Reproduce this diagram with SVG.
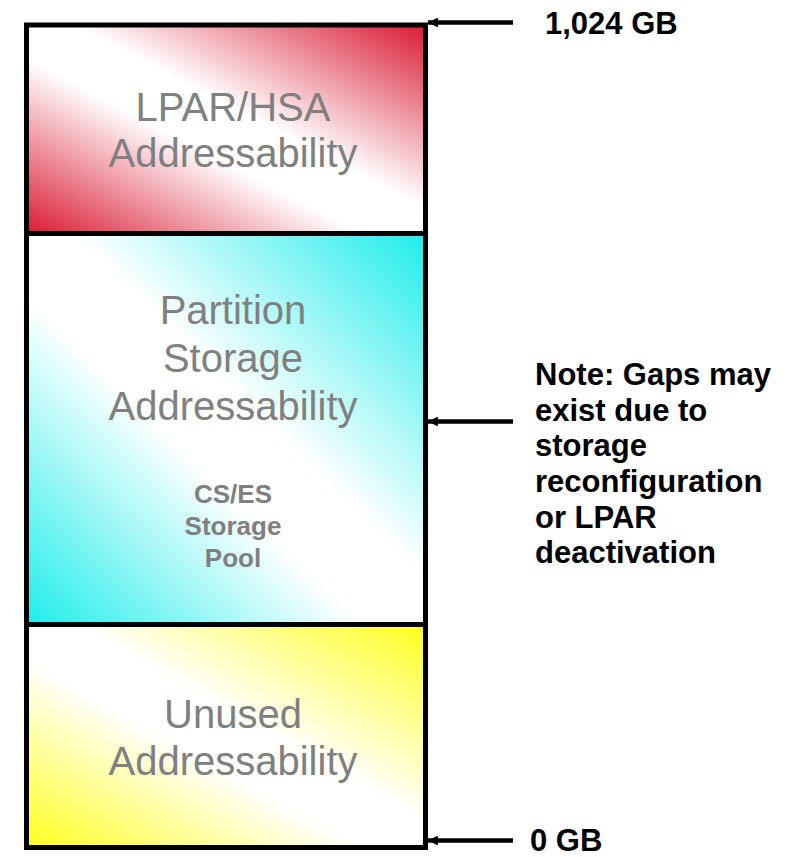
<svg xmlns="http://www.w3.org/2000/svg" width="793" height="857" viewBox="0 0 793 857">
  <style>
    .box { stroke: #000; stroke-width: 5; }
    .big { font-family: "Liberation Sans", Arial, sans-serif; font-size: 40px; fill: #808080; text-anchor: middle; }
    .small { font-family: "Liberation Sans", Arial, sans-serif; font-size: 26px; font-weight: bold; fill: #808080; text-anchor: middle; }
    .lbl { font-family: "Liberation Sans", Arial, sans-serif; font-size: 31px; font-weight: bold; fill: #000; }
    .arrow { stroke: #000; stroke-width: 4.5; fill: none; marker-end: url(#head); }
  </style>
  <defs>
    <linearGradient id="gRed" x1="0" y1="1" x2="1" y2="0">
      <stop offset="0" stop-color="#DA1A33"/>
      <stop offset="0.42" stop-color="#FFFFFF"/>
      <stop offset="0.56" stop-color="#FFFFFF"/>
      <stop offset="1" stop-color="#DA1A33"/>
    </linearGradient>
    <linearGradient id="gCyan" x1="0" y1="1" x2="1" y2="0">
      <stop offset="0" stop-color="#1EEDEB"/>
      <stop offset="0.42" stop-color="#FFFFFF"/>
      <stop offset="0.56" stop-color="#FFFFFF"/>
      <stop offset="1" stop-color="#1EEDEB"/>
    </linearGradient>
    <linearGradient id="gYellow" x1="0" y1="1" x2="1" y2="0">
      <stop offset="0" stop-color="#FFFF1E"/>
      <stop offset="0.42" stop-color="#FFFFFF"/>
      <stop offset="0.56" stop-color="#FFFFFF"/>
      <stop offset="1" stop-color="#FFFF1E"/>
    </linearGradient>
    <marker id="head" viewBox="0 0 10 10" refX="10" refY="5" markerWidth="2.2" markerHeight="2.2" orient="auto" markerUnits="strokeWidth">
      <path d="M0,0 L10,5 L0,10 Z" fill="#000"/>
    </marker>
  </defs>

  <!-- address-space blocks, top to bottom -->
  <g id="lpar-hsa">
    <rect class="box" x="26.5" y="25" width="399" height="208.5" fill="url(#gRed)"/>
    <text class="big" x="233" y="121">LPAR/HSA</text>
    <text class="big" x="233" y="167">Addressability</text>
  </g>

  <g id="partition-storage">
    <rect class="box" x="26.5" y="233.5" width="399" height="391" fill="url(#gCyan)"/>
    <text class="big" x="233" y="324">Partition</text>
    <text class="big" x="233" y="372">Storage</text>
    <text class="big" x="233" y="420">Addressability</text>
    <text class="small" x="233" y="503">CS/ES</text>
    <text class="small" x="233" y="535">Storage</text>
    <text class="small" x="233" y="567">Pool</text>
  </g>

  <g id="unused">
    <rect class="box" x="26.5" y="624.5" width="399" height="223" fill="url(#gYellow)"/>
    <text class="big" x="233" y="728">Unused</text>
    <text class="big" x="233" y="775">Addressability</text>
  </g>

  <!-- boundary markers -->
  <g id="connectors">
    <line class="arrow" x1="513" y1="22.5" x2="428" y2="22.5"/>
    <line class="arrow" x1="513" y1="421.5" x2="428" y2="421.5"/>
    <line class="arrow" x1="513" y1="840.5" x2="428" y2="840.5"/>
  </g>

  <g id="label-top">
    <text class="lbl" x="545" y="34">1,024 GB</text>
  </g>
  <g id="label-note">
    <text class="lbl" x="535" y="385">Note: Gaps may</text>
    <text class="lbl" x="535" y="421">exist due to</text>
    <text class="lbl" x="535" y="456">storage</text>
    <text class="lbl" x="535" y="492">reconfiguration</text>
    <text class="lbl" x="535" y="528">or LPAR</text>
    <text class="lbl" x="535" y="563">deactivation</text>
  </g>
  <g id="label-bottom">
    <text class="lbl" x="530" y="851">0 GB</text>
  </g>
</svg>
